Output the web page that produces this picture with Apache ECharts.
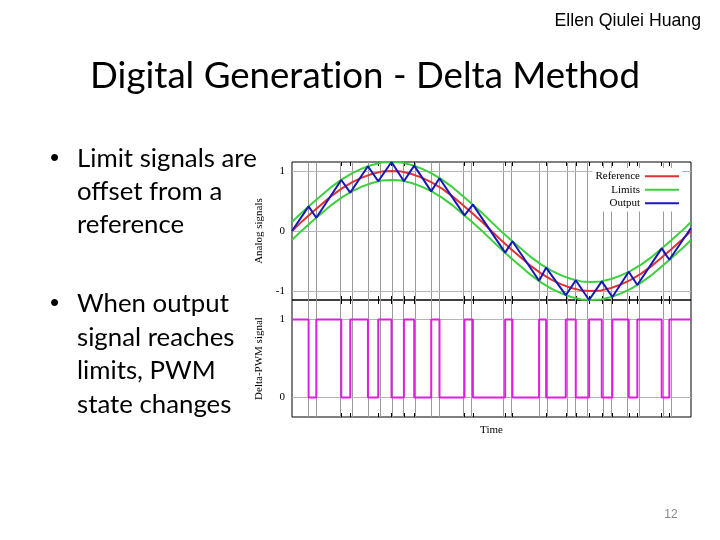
<!DOCTYPE html>
<html><head><meta charset="utf-8">
<script src="https://cdn.jsdelivr.net/npm/echarts@6/dist/echarts.min.js"></script>
<style>html,body{margin:0;padding:0;background:#fff}#c{width:720px;height:540px}</style>
</head><body><div id="c"></div>
<script>
// ---- texts ----
const titleText = 'Digital Generation - Delta Method';
const authorText = 'Ellen Qiulei Huang';
const bullet1 = ['Limit signals are', 'offset from a', 'reference'];
const bullet2 = ['When output', 'signal reaches', 'limits, PWM', 'state changes'];
const pageNum = '12';
const legendNames = ['Reference', 'Limits', 'Output'];
const topYLabels = [-1, 0, 1];
const bottomYLabels = [0, 1];

// ---- data ----
const refT = [0,0.025,0.05,0.075,0.1,0.125,0.15,0.175,0.2,0.225,0.25,0.275,0.3,0.325,0.35,0.375,0.4,0.425,0.45,0.475,0.5,0.525,0.55,0.575,0.6,0.625,0.65,0.675,0.7,0.725,0.75,0.775,0.8,0.825,0.85,0.875,0.9,0.925,0.95,0.975,1];
const refV = [0,0.16,0.31,0.45,0.59,0.71,0.81,0.89,0.95,0.99,1.00,0.99,0.95,0.89,0.81,0.71,0.59,0.45,0.31,0.16,0,-0.16,-0.31,-0.45,-0.59,-0.71,-0.81,-0.89,-0.95,-0.99,-1.00,-0.99,-0.95,-0.89,-0.81,-0.71,-0.59,-0.45,-0.31,-0.16,0];
const upperV = [0.15,0.31,0.46,0.60,0.74,0.86,0.96,1.04,1.10,1.14,1.15,1.14,1.10,1.04,0.96,0.86,0.74,0.60,0.46,0.31,0.15,-0.01,-0.16,-0.30,-0.44,-0.56,-0.66,-0.74,-0.80,-0.84,-0.85,-0.84,-0.80,-0.74,-0.66,-0.56,-0.44,-0.30,-0.16,-0.01,0.15];
const lowerV = [-0.15,0.01,0.16,0.30,0.44,0.56,0.66,0.74,0.80,0.84,0.85,0.84,0.80,0.74,0.66,0.56,0.44,0.30,0.16,0.01,-0.15,-0.31,-0.46,-0.60,-0.74,-0.86,-0.96,-1.04,-1.10,-1.14,-1.15,-1.14,-1.10,-1.04,-0.96,-0.86,-0.74,-0.60,-0.46,-0.31,-0.15];
const outT = [0,0.0416,0.0609,0.1235,0.146,0.1903,0.2161,0.2494,0.2805,0.3063,0.3489,0.3696,0.4323,0.4533,0.5342,0.5525,0.6193,0.6369,0.6862,0.7112,0.7446,0.7764,0.8029,0.844,0.8655,0.9266,0.9457,1];
const outV = [0,0.41,0.22,0.85,0.64,1.08,0.83,1.15,0.83,1.09,0.66,0.88,0.26,0.44,-0.36,-0.17,-0.83,-0.61,-1.07,-0.82,-1.15,-0.84,-1.10,-0.68,-0.90,-0.29,-0.48,0.05];
const pwmV = [1,0,1,0,1,0,1,0,1,0,1,0,1,0,1,0,1,0,1,0,1,0,1,0,1,0,1,1];

// ---- build ----
const switchT = outT.slice(1, -1);
const pair = (xs, ys) => xs.map((x, i) => [x, ys[i]]);

const ctx = document.createElement('canvas').getContext('2d');
function fitSize(text, family, base, target) {
  ctx.font = base + 'px ' + family;
  return base * target / ctx.measureText(text).width;
}
const SANS = 'Lato';
// zero-width non-joiner keeps Lato from forming a "ti" ligature
const titleShown = titleText.replace('ti', 't\u200Ci');
const titleSize = fitSize(titleShown, SANS, 40, 550);
const bulletSize = fitSize(bullet1[0], SANS, 28, 180);
const SERIF = '"Liberation Serif", "DejaVu Serif", serif';

function txt(text, x, baseline, size, family, color, align) {
  return { type: 'text', silent: true, z: 10,
    style: { text: text, x: x, y: baseline - 0.32 * size, font: size + 'px ' + family,
      fill: color, align: align || 'left', verticalAlign: 'middle' } };
}
const graphics = [
  txt(titleShown, 365, 88, titleSize, SANS, '#000', 'center'),
  txt(authorText, 701, 27, 17.7, '"Liberation Sans", Arial, sans-serif', '#000', 'right'),
  txt(pageNum, 671, 519, 12, '"Liberation Sans", Arial, sans-serif', '#898989', 'center')
];
const b1Base = [166.7, 200, 233.3];
const b2Base = [312, 345.5, 379, 412.5];
graphics.push(txt('\u2022', 50, b1Base[0], 26, '"Liberation Sans", Arial', '#000'));
graphics.push(txt('\u2022', 50, b2Base[0], 26, '"Liberation Sans", Arial', '#000'));
bullet1.forEach((s, i) => graphics.push(txt(s, 77, b1Base[i], bulletSize, SANS, '#000')));
bullet2.forEach((s, i) => graphics.push(txt(s, 77, b2Base[i], bulletSize, SANS, '#000')));

const tickStyle = { show: true, inside: true, length: 4, lineStyle: { color: '#000', width: 1 } };
function xAx(grid, pos, name) {
  const a = { type: 'value', gridIndex: grid, position: pos, min: 0, max: 1,
    axisLine: { show: false, onZero: false }, splitLine: { show: false }, axisLabel: { show: false },
    axisTick: Object.assign({ customValues: switchT }, tickStyle) };
  if (name) {
    a.name = name; a.nameLocation = 'middle'; a.nameGap = 8;
    a.nameTextStyle = { fontFamily: SERIF, fontSize: 11, color: '#000' };
  }
  return a;
}
function yAx(grid, pos, min, max, labels, name) {
  const a = { type: 'value', gridIndex: grid, position: pos, min: min, max: max,
    axisLine: { show: false, onZero: false }, splitLine: { show: false },
    axisTick: Object.assign({ customValues: labels }, tickStyle, { length: 5 }),
    axisLabel: pos === 'left' ? { customValues: labels, fontFamily: SERIF, fontSize: 11, color: '#000', margin: 7 } : { show: false } };
  if (name) {
    a.name = name; a.nameLocation = 'middle'; a.nameGap = 27; a.nameRotate = 90;
    a.nameTextStyle = { fontFamily: SERIF, fontSize: 11, color: '#000' };
  }
  return a;
}
function gridLines(xi, yi, hVals) {
  return { type: 'line', xAxisIndex: xi, yAxisIndex: yi, data: [], z: 1, silent: true,
    markLine: { z: 1, silent: true, symbol: ['none', 'none'], label: { show: false }, animation: false,
      lineStyle: { color: '#9a9a9a', type: 'solid', width: 1 },
      data: switchT.map(t => ({ xAxis: t }))
        .concat(hVals.map(v => ({ yAxis: v, lineStyle: { color: '#b4b4b4', type: 'solid', width: 1 } }))) } };
}
function line(name, data, color, z, extra) {
  return Object.assign({ name: name, type: 'line', xAxisIndex: 0, yAxisIndex: 0, data: data,
    symbol: 'none', z: z, animation: false,
    lineStyle: { color: color, width: 2 }, itemStyle: { color: color } }, extra || {});
}

const option = {
  backgroundColor: '#fff',
  animation: false,
  graphic: graphics,
  grid: [
    { left: 292, top: 162, width: 399, height: 138, show: true, borderColor: '#000', borderWidth: 1, backgroundColor: 'transparent' },
    { left: 292, top: 300, width: 399, height: 117, show: true, borderColor: '#000', borderWidth: 1, backgroundColor: 'transparent' }
  ],
  xAxis: [xAx(0, 'bottom'), xAx(0, 'top'), xAx(1, 'bottom', 'Time'), xAx(1, 'top')],
  yAxis: [
    yAx(0, 'left', -1.15, 1.15, topYLabels, 'Analog signals'),
    yAx(0, 'right', -1.15, 1.15, topYLabels),
    yAx(1, 'left', -0.25, 1.25, bottomYLabels, 'Delta-PWM signal'),
    yAx(1, 'right', -0.25, 1.25, bottomYLabels)
  ],
  legend: {
    data: legendNames, orient: 'vertical', align: 'right', right: 38, top: 168,
    icon: 'rect', backgroundColor: '#fff', padding: [2, 3], itemGap: 1, itemWidth: 34, itemHeight: 2,
    textStyle: { fontFamily: SERIF, fontSize: 11, color: '#000', lineHeight: 12.5 }, selectedMode: false
  },
  series: [
    gridLines(0, 0, topYLabels),
    gridLines(2, 2, bottomYLabels),
    line('Reference', pair(refT, refV), '#e03232', 3),
    line('Limits', pair(refT, upperV), '#3cd03c', 3),
    line('Limits', pair(refT, lowerV), '#3cd03c', 3),
    line('Output', pair(outT, outV), '#1818b8', 4),
    line('PWM', pair(outT, pwmV), '#e01ee0', 3, { xAxisIndex: 2, yAxisIndex: 2, step: 'end' })
  ]
};
echarts.init(document.getElementById('c')).setOption(option);
</script>
</body></html>
